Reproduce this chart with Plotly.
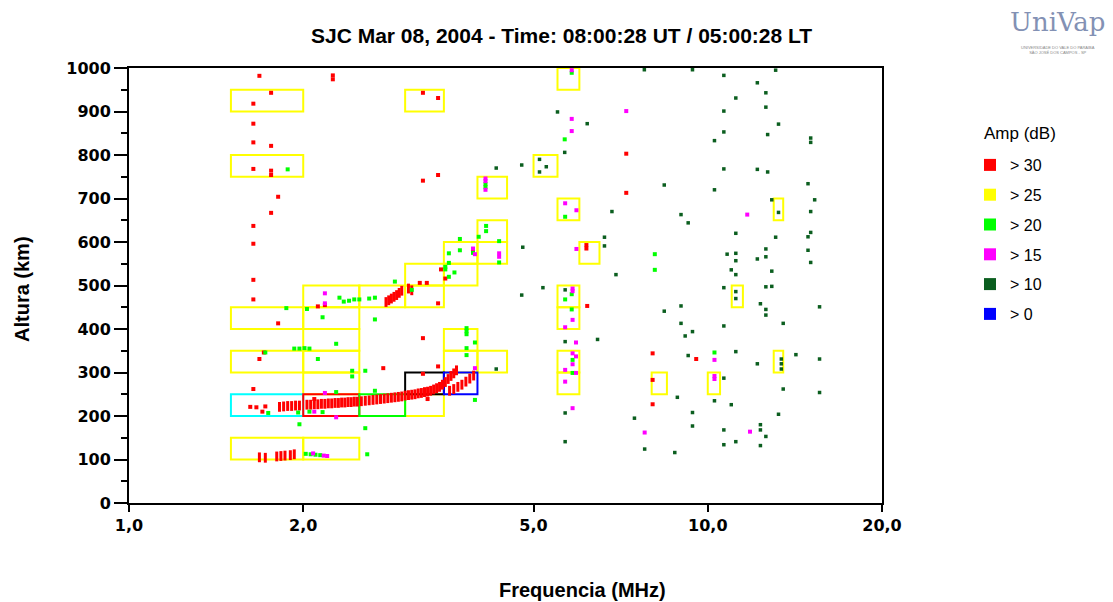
import plotly.graph_objects as go

# ---------------- data ----------------
TITLE = "SJC Mar 08, 2004 - Time: 08:00:28 UT / 05:00:28 LT"
X_TITLE = "Frequencia (MHz)"
Y_TITLE = "Altura (km)"
LEGEND_TITLE = "Amp (dB)"
x_tick_vals = [1, 2, 5, 10, 20]
x_tick_text = ["1,0", "2,0", "5,0", "10,0", "20,0"]
y_tick_vals = [0, 100, 200, 300, 400, 500, 600, 700, 800, 900, 1000]

amp_labels = ["> 30", "> 25", "> 20", "> 15", "> 10", "> 0"]
amp_colors = ["#ff0000", "#ffff00", "#00ff00", "#ff00ff", "#0b5e1f", "#0000ff"]

# > 30 dB isolated echoes
red_f = [1.68, 2.25, 2.25, 1.76, 1.64, 3.22, 3.42, 1.64, 1.64, 1.76, 1.64, 1.76, 1.76,
         1.81, 1.76, 1.64, 1.64, 1.64, 1.64, 3.22, 3.42, 3.93, 3.46, 3.52, 3.18, 3.27,
         3.42, 2.18, 2.12, 1.81, 3.22, 1.71, 1.68, 2.75, 3.42, 3.22, 1.64, 3.28, 1.72,
         1.70, 6.17, 6.17, 7.23, 7.23, 6.19, 8.03, 8.03, 9.55, 8.03, 1.62, 1.66, 2.09]
red_h = [982, 983, 974, 943, 918, 943, 931, 872, 829, 821, 768, 764, 754,
         704, 667, 637, 596, 513, 468, 741, 754, 580, 537, 516, 506, 506,
         459, 455, 452, 413, 379, 346, 331, 310, 314, 297, 262, 239, 222,
         210, 593, 585, 803, 713, 453, 344, 227, 331, 283, 221, 220, 239]

# > 30 dB main traces (vertical dashes)
trace_f = [1.82, 1.85, 1.88, 1.91, 1.94, 1.97, 2.03, 2.06, 2.09, 2.12, 2.15, 2.18, 2.21,
           2.24, 2.27, 2.30, 2.33, 2.36, 2.39, 2.42, 2.45, 2.48, 2.52, 2.56, 2.60, 2.64,
           2.68, 2.72, 2.76, 2.80, 2.84, 2.88, 2.92, 2.96, 3.00, 3.04, 3.08, 3.12, 3.16,
           3.20, 3.24, 3.28, 3.32, 3.36, 3.40, 3.44, 3.48, 3.52, 3.56, 3.60, 3.64, 3.68,
           3.58, 3.64, 3.70, 3.76, 3.82, 3.88, 3.94,
           2.78, 2.81, 2.84, 2.87, 2.90, 2.93, 2.96, 3.04, 3.08,
           1.68, 1.72, 1.80, 1.83, 1.86, 1.90, 1.93]
trace_h = [221, 222, 223, 223, 224, 224, 226, 226, 227, 227, 228, 228, 229,
           229, 230, 230, 231, 231, 232, 232, 233, 233, 234, 235, 236, 237,
           238, 239, 240, 241, 242, 243, 244, 245, 247, 248, 249, 250, 252,
           253, 255, 256, 258, 261, 264, 267, 272, 278, 285, 292, 298, 305,
           258, 262, 267, 272, 279, 286, 293,
           462, 466, 470, 474, 478, 483, 488, 493, 489,
           105, 104, 107, 108, 109, 110, 112]

# > 20 dB
green_f = [1.88, 4.13, 4.13, 4.14, 4.14, 3.73, 4.02, 4.36, 3.57, 3.73, 3.93, 4.36, 3.57,
           3.52, 3.52, 3.65, 3.57, 2.88, 3.08, 2.31, 2.40, 2.50, 2.60, 2.66, 1.87, 2.03,
           2.16, 2.66, 2.28, 1.93, 1.97, 2.01, 2.05, 1.72, 2.12, 2.43, 2.56, 3.83, 3.83,
           3.83, 3.96, 3.83, 3.83, 2.43, 2.28, 2.66, 3.96, 1.74, 1.97, 2.56, 2.58, 5.82,
           5.66, 5.67, 5.82, 5.67, 5.82, 8.10, 8.10, 10.27, 5.84, 5.84, 1.96, 2.05, 2.16,
           2.02, 2.06, 2.10, 2.14, 2.35, 2.45]
green_h = [767, 733, 726, 637, 625, 607, 612, 602, 574, 581, 575, 553, 552,
           543, 537, 530, 520, 509, 490, 472, 465, 468, 470, 472, 448, 446,
           427, 422, 366, 355, 355, 356, 355, 346, 331, 304, 304, 402, 395,
           388, 369, 356, 340, 291, 255, 258, 237, 207, 181, 172, 112, 989,
           836, 658, 480, 468, 445, 572, 536, 346, 329, 299, 208, 210, 209,
           113, 112, 111, 110, 463, 468]

# > 15 dB
magenta_f = [4.13, 4.13, 4.13, 3.93, 3.96, 4.36, 4.36, 2.18, 2.18, 2.28, 2.18, 2.09, 3.96,
             5.82, 7.23, 5.82, 5.82, 5.67, 5.93, 11.7, 5.93, 5.84, 5.84, 5.67, 5.92, 5.84,
             5.92, 5.84, 5.67, 5.92, 5.67, 5.84, 7.78, 10.27, 10.27, 10.27, 11.83, 2.08,
             2.17, 2.20, 5.84]
magenta_h = [746, 740, 720, 585, 572, 574, 566, 482, 459, 197, 253, 210, 310,
             995, 901, 883, 855, 689, 673, 663, 584, 487, 421, 404, 369, 344,
             337, 319, 306, 299, 279, 218, 162, 329, 292, 285, 164, 114,
             109, 108, 493]

# > 10 dB
dkgreen_f = [4.31, 4.77, 5.12, 5.12, 5.26, 4.79, 5.19, 4.77, 4.31, 7.77, 9.41, 10.66, 13.1,
             12.18, 12.6, 11.18, 5.50, 10.66, 12.6, 6.19, 10.66, 13.25, 12.69, 10.27, 15.06,
             15.06, 5.66, 10.66, 12.18, 12.69, 8.41, 10.27, 14.9, 6.83, 8.99, 9.25, 12.9,
             13.25, 15.3, 15.06, 11.18, 6.63, 6.63, 15.06, 14.9, 13.1, 10.8, 11.18, 11.18,
             12.6, 12.6, 12.18, 10.98, 11.18, 12.9, 14.9, 15.06, 6.94, 10.66, 12.6, 12.9,
             12.33, 12.6, 12.6, 15.6, 5.67, 6.45, 8.41, 8.99, 8.99, 9.41, 9.14, 10.66, 13.5,
             9.25, 11.18, 12.18, 13.4, 13.4, 13.4, 14.2, 15.6, 13.5, 15.6, 10.27, 10.98,
             8.86, 9.41, 9.41, 5.67, 5.67, 7.47, 7.78, 8.77, 10.66, 10.66, 11.18, 12.33,
             12.33, 12.6, 12.33, 13.25, 10.66, 11.18, 11.18, 5.67]
dkgreen_h = [770, 777, 790, 761, 773, 588, 495, 478, 308, 996, 996, 983, 995,
             966, 943, 931, 899, 901, 910, 872, 853, 871, 847, 833, 839,
             829, 806, 768, 767, 761, 731, 720, 734, 670, 663, 644, 697,
             668, 697, 670, 620, 611, 591, 622, 612, 611, 572, 574, 557,
             584, 566, 561, 536, 525, 533, 581, 553, 525, 495, 497, 498,
             458, 445, 432, 451, 371, 376, 441, 453, 413, 394, 384, 407, 413,
             339, 348, 320, 331, 320, 308, 341, 331, 262, 254, 235, 226,
             243, 208, 177, 207, 141, 195, 124, 116, 168, 134, 141, 180,
             168, 153, 132, 204, 287, 486, 470, 490]

# search boxes (f0, f1, h0, h1)
yellow_boxes = [
    (1.5, 2.0, 900, 950), (3.0, 3.5, 900, 950), (5.5, 6.0, 950, 1000),
    (1.5, 2.0, 750, 800), (5.0, 5.5, 750, 800), (4.0, 4.5, 700, 750),
    (5.5, 6.0, 650, 700), (13.0, 13.5, 650, 700), (4.0, 4.5, 600, 650),
    (3.5, 4.0, 550, 600), (4.0, 4.5, 550, 600), (6.0, 6.5, 550, 600),
    (3.0, 3.5, 500, 550), (3.5, 4.0, 500, 550),
    (2.0, 2.5, 450, 500), (2.5, 3.0, 450, 500), (3.0, 3.5, 450, 500),
    (5.5, 6.0, 450, 500), (11.0, 11.5, 450, 500),
    (1.5, 2.0, 400, 450), (2.0, 2.5, 400, 450), (5.5, 6.0, 400, 450),
    (2.0, 2.5, 350, 400), (3.5, 4.0, 350, 400),
    (1.5, 2.0, 300, 350), (2.0, 2.5, 300, 350), (3.5, 4.0, 300, 350),
    (4.0, 4.5, 300, 350), (5.5, 6.0, 300, 350), (13.0, 13.5, 300, 350),
    (2.0, 2.5, 250, 300), (5.5, 6.0, 250, 300), (8.0, 8.5, 250, 300),
    (10.0, 10.5, 250, 300), (3.0, 3.5, 200, 250),
    (1.5, 2.0, 100, 150), (2.0, 2.5, 100, 150),
]
colored_boxes = [
    ((1.5, 2.0, 200, 250), "#00ffff"),
    ((2.0, 2.5, 200, 250), "#ff0000"),
    ((2.5, 3.0, 200, 250), "#00ff00"),
    ((3.0, 3.5, 250, 300), "#000000"),
    ((3.5, 4.0, 250, 300), "#0000ff"),
]

# ---------------- figure ----------------
fig = go.Figure()

shapes = []
for (f0, f1, h0, h1) in yellow_boxes:
    shapes.append(dict(type="rect", xref="x", yref="y", x0=f0, x1=f1, y0=h0, y1=h1,
                       line=dict(color="#ffff00", width=2), layer="below"))
for (f0, f1, h0, h1), c in colored_boxes:
    shapes.append(dict(type="rect", xref="x", yref="y", x0=f0, x1=f1, y0=h0, y1=h1,
                       line=dict(color=c, width=2), layer="below"))

series = [
    (red_f, red_h), ([None], [None]), (green_f, green_h),
    (magenta_f, magenta_h), (dkgreen_f, dkgreen_h), ([None], [None]),
]
for i, ((fx, hy), lab, col) in enumerate(zip(series, amp_labels, amp_colors)):
    fig.add_trace(go.Scatter(
        x=fx, y=hy, mode="markers", name=lab, legendgroup=lab,
        marker=dict(symbol="square", size=4 if i != 4 else 3.5, color=col,
                    line=dict(width=0)),
    ))
    if i == 0:
        fig.add_trace(go.Scatter(
            x=trace_f, y=trace_h, mode="markers", name=lab, legendgroup=lab,
            showlegend=False,
            marker=dict(symbol="line-ns", size=7, line=dict(width=3, color=col)),
        ))

L, R, T, B = 129, 231, 68, 99
W, H = 1113, 602
pw, ph = W - L - R, H - T - B

def px(xp):
    return (xp - L) / pw

def py(yp):
    return (H - B - yp) / ph

ann = [
    dict(text=TITLE, x=px(561), y=py(35), xref="paper", yref="paper", showarrow=False,
         xanchor="center", yanchor="middle",
         font=dict(family="Liberation Sans", size=21, color="black", weight="bold")),
    dict(text=X_TITLE, x=px(582), y=py(590), xref="paper", yref="paper", showarrow=False,
         xanchor="center", yanchor="middle",
         font=dict(family="Liberation Sans", size=20, color="black", weight="bold")),
    dict(text=Y_TITLE, x=px(22), y=py(289), xref="paper", yref="paper", showarrow=False,
         xanchor="center", yanchor="middle", textangle=-90,
         font=dict(family="Liberation Sans", size=20, color="black", weight="bold")),
    dict(text=LEGEND_TITLE, x=px(1020), y=py(133), xref="paper", yref="paper",
         showarrow=False, xanchor="center", yanchor="middle",
         font=dict(family="Liberation Sans", size=17, color="black")),
    dict(text="UniVap", x=px(1058), y=py(22), xref="paper", yref="paper", showarrow=False,
         xanchor="center", yanchor="middle",
         font=dict(family="DejaVu Serif", size=26, color="#8391b4")),
    dict(text="UNIVERSIDADE DO VALE DO PARAÍBA<br>SÃO JOSÉ DOS CAMPOS - SP",
         x=px(1058), y=py(50), xref="paper", yref="paper", showarrow=False,
         xanchor="center", yanchor="middle",
         font=dict(family="Liberation Sans", size=4, color="#888888")),
]

fig.update_layout(
    width=W, height=H,
    margin=dict(l=L, r=R, t=T, b=B, pad=0),
    paper_bgcolor="white", plot_bgcolor="white",
    shapes=shapes, annotations=ann,
    showlegend=True,
    legend=dict(
        font=dict(family="Liberation Sans", size=16, color="black"),
        x=px(970), y=py(148), xanchor="left", yanchor="top",
        tracegroupgap=6, itemsizing="constant", itemwidth=30,
        bgcolor="rgba(0,0,0,0)",
    ),
    xaxis=dict(
        type="log", range=[0, 1.30103], tickvals=x_tick_vals, ticktext=x_tick_text,
        ticks="outside", ticklen=7, tickwidth=2, tickcolor="black",
        showline=True, linewidth=2, linecolor="black", mirror=True,
        showgrid=False, zeroline=False, ticklabelstandoff=0,
        tickfont=dict(family="DejaVu Sans", size=16, color="black", weight="bold"),
    ),
    yaxis=dict(
        range=[0, 1000], tickvals=y_tick_vals,
        ticks="outside", ticklen=13, tickwidth=2, tickcolor="black",
        minor=dict(dtick=50, ticks="outside", ticklen=6, tickwidth=2, tickcolor="black",
                   showgrid=False),
        showline=True, linewidth=2, linecolor="black", mirror=True,
        showgrid=False, zeroline=False, ticklabelstandoff=0,
        tickfont=dict(family="DejaVu Sans", size=16, color="black", weight="bold"),
    ),
)

fig.write_html("out.html")
